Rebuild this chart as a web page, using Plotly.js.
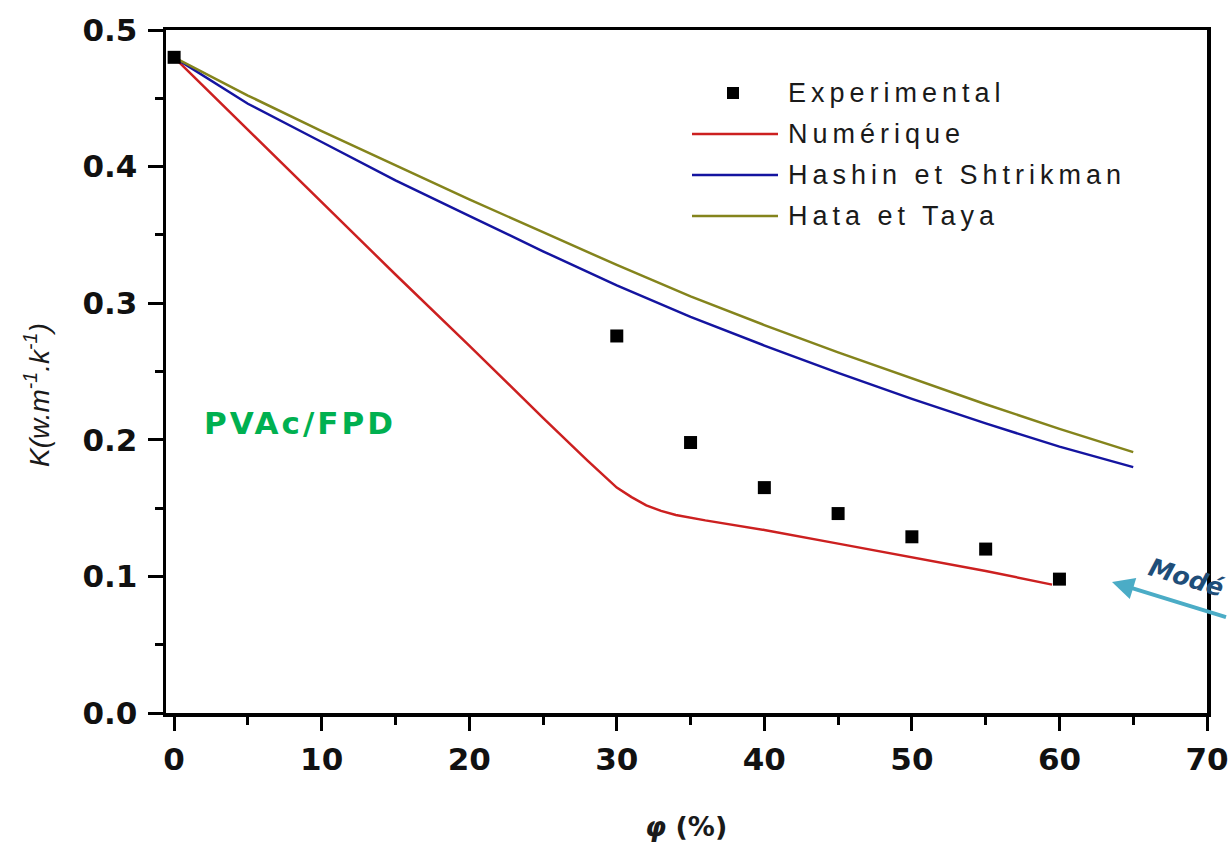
<!DOCTYPE html>
<html>
<head>
<meta charset="utf-8">
<script src="https://cdn.plot.ly/plotly-3.0.1.min.js"></script>
<style>
  html, body { margin: 0; padding: 0; background: #fff; }
  #chart { width: 1229px; height: 847px; }
</style>
</head>
<body>
<div id="chart"></div>
<script>
// ---- data ----
const expX = [0, 30, 35, 40, 45, 50, 55, 60];
const expY = [0.480, 0.276, 0.198, 0.165, 0.146, 0.129, 0.120, 0.098];

const numX = [0, 5, 10, 15, 20, 25, 28, 30, 31, 32, 33, 34, 36, 40, 45, 50, 55, 59.5];
const numY = [0.480, 0.427, 0.374, 0.321, 0.269, 0.216, 0.185, 0.165, 0.158, 0.152, 0.148, 0.145, 0.141, 0.134, 0.124, 0.114, 0.104, 0.094];

const hsX = [0, 5, 10, 15, 20, 25, 30, 35, 40, 45, 50, 55, 60, 65];
const hsY = [0.480, 0.446, 0.418, 0.390, 0.364, 0.338, 0.313, 0.290, 0.269, 0.249, 0.230, 0.212, 0.195, 0.180];

const htX = [0, 5, 10, 15, 20, 25, 30, 35, 40, 45, 50, 55, 60, 65];
const htY = [0.480, 0.452, 0.426, 0.401, 0.376, 0.352, 0.328, 0.305, 0.284, 0.264, 0.245, 0.226, 0.208, 0.191];

const seriesNames = ['Experimental', 'Numérique', 'Hashin et Shtrikman', 'Hata et Taya'];
const xTickVals = [0, 10, 20, 30, 40, 50, 60, 70];
const yTickVals = [0.0, 0.1, 0.2, 0.3, 0.4, 0.5];
const yTickText = ['0.0', '0.1', '0.2', '0.3', '0.4', '0.5'];

// ---- styling ----
const colors = { exp: '#000000', num: '#cc2020', hs: '#1414a0', ht: '#84841c' };

const traces = [
  { x: numX, y: numY, type: 'scatter', mode: 'lines', name: seriesNames[1],
    line: { color: colors.num, width: 2.5 } },
  { x: hsX, y: hsY, type: 'scatter', mode: 'lines', name: seriesNames[2],
    line: { color: colors.hs, width: 2.5 } },
  { x: htX, y: htY, type: 'scatter', mode: 'lines', name: seriesNames[3],
    line: { color: colors.ht, width: 2.5 } },
  { x: expX, y: expY, type: 'scatter', mode: 'markers', name: seriesNames[0],
    marker: { symbol: 'square', size: 13, color: colors.exp } }
];

// plot area geometry in pixels (for placing legend / texts in paper coords)
const L = 166, R = 1207, T = 30, B = 713;
const W = R - L, H = B - T;
const px = v => (v - L) / W;
const py = v => (B - v) / H;

const legendRows = [93, 134, 175, 216];
const legendFont = { family: 'Liberation Sans, Arial, sans-serif', size: 27, color: '#1a1a1a' };
const spaced = (t, s) => '<span style="letter-spacing:' + s + 'px">' + t + '</span>';

const annotations = [];
seriesNames.forEach((n, i) => {
  annotations.push({ xref: 'paper', yref: 'paper', x: px(786), y: py(legendRows[i]),
    xanchor: 'left', yanchor: 'middle', text: spaced(n, 5), showarrow: false, font: legendFont });
});
annotations.push({ xref: 'paper', yref: 'paper', x: px(202), y: py(423),
  xanchor: 'left', yanchor: 'middle', text: '<b>' + spaced('PVAc/FPD', 3) + '</b>', showarrow: false,
  font: { family: 'DejaVu Sans, sans-serif', size: 31, color: '#00b050' } });
annotations.push({ xref: 'paper', yref: 'paper', x: px(37), y: py(395),
  xanchor: 'center', yanchor: 'middle', textangle: -90,
  text: '<i>K(w.m<sup>-1</sup>.k<sup>-1</sup>)</i>', showarrow: false,
  font: { family: 'Liberation Sans, Arial, sans-serif', size: 28, color: '#1a1a1a' } });
annotations.push({ xref: 'paper', yref: 'paper', x: px(686), y: py(826),
  xanchor: 'center', yanchor: 'middle',
  text: '<b><i>φ</i> (%)</b>', showarrow: false,
  font: { family: 'DejaVu Sans, sans-serif', size: 27, color: '#1a1a1a' } });
annotations.push({ xref: 'paper', yref: 'paper', x: px(1186), y: py(577),
  xanchor: 'center', yanchor: 'middle', textangle: 17,
  text: '<b><i>Modé</i></b>', showarrow: false,
  font: { family: 'DejaVu Sans, sans-serif', size: 25, color: '#1f4e79' } });
annotations.push({ xref: 'paper', yref: 'paper', x: px(1112), y: py(582),
  text: ' ', showarrow: true, arrowhead: 2, arrowsize: 1.1, arrowwidth: 4,
  arrowcolor: '#4bacc6', ax: 150, ay: 36 });

const shapes = [
  // legend samples
  { type: 'rect', xref: 'paper', yref: 'paper', x0: px(727), x1: px(739), y0: py(99), y1: py(87),
    fillcolor: '#000', line: { width: 0 } },
  { type: 'line', xref: 'paper', yref: 'paper', x0: px(692), x1: px(778), y0: py(legendRows[1]), y1: py(legendRows[1]),
    line: { color: colors.num, width: 2.5 } },
  { type: 'line', xref: 'paper', yref: 'paper', x0: px(692), x1: px(778), y0: py(legendRows[2]), y1: py(legendRows[2]),
    line: { color: colors.hs, width: 2.5 } },
  { type: 'line', xref: 'paper', yref: 'paper', x0: px(692), x1: px(778), y0: py(legendRows[3]), y1: py(legendRows[3]),
    line: { color: colors.ht, width: 2.5 } }
];

const tickFont = { family: 'DejaVu Sans, sans-serif', size: 31, color: '#111', weight: 'bold' };

const layout = {
  width: 1229, height: 847,
  margin: { l: L, r: 1229 - R, t: T, b: 847 - B, pad: 0 },
  paper_bgcolor: '#fff', plot_bgcolor: '#fff',
  showlegend: false,
  xaxis: {
    range: [-0.55, 70], showgrid: false, zeroline: false,
    showline: true, linecolor: '#000', linewidth: 3.5, mirror: true,
    ticks: 'outside', ticklen: 14, tickwidth: 3, tickcolor: '#000',
    tickvals: xTickVals, ticktext: xTickVals.map(String),
    tickfont: tickFont, ticklabelstandoff: 2,
    minor: { dtick: 5, ticks: 'outside', ticklen: 8, tickwidth: 3, tickcolor: '#000', showgrid: false }
  },
  yaxis: {
    range: [0, 0.5], showgrid: false, zeroline: false,
    showline: true, linecolor: '#000', linewidth: 3.5, mirror: true,
    ticks: 'outside', ticklen: 15, tickwidth: 3, tickcolor: '#000',
    tickvals: yTickVals, ticktext: yTickText,
    tickfont: tickFont, ticklabelstandoff: 4,
    minor: { dtick: 0.05, ticks: 'outside', ticklen: 8, tickwidth: 3, tickcolor: '#000', showgrid: false }
  },
  annotations: annotations,
  shapes: shapes
};

Plotly.newPlot('chart', traces, layout, { displayModeBar: false, staticPlot: true });
</script>
</body>
</html>
